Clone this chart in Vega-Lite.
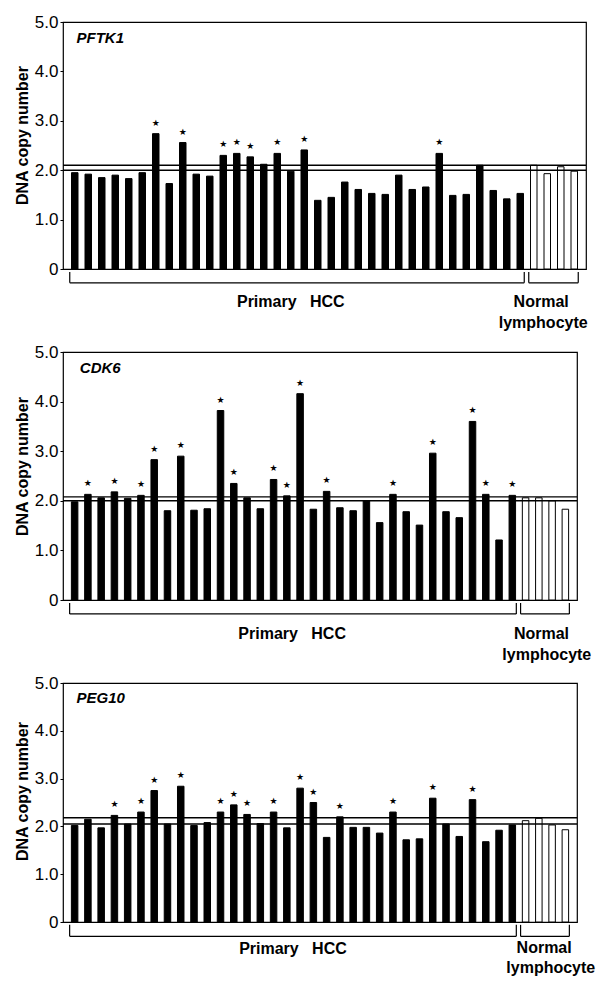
{
  "$schema": "https://vega.github.io/schema/vega-lite/v6.json",
  "padding": {"top": 12, "left": 13, "right": 0, "bottom": 0},
  "background": "white",
  "config": {
    "font": "Liberation Sans",
    "view": {"stroke": "black", "strokeWidth": 1.2},
    "axis": {
      "labelFont": "Liberation Sans", "labelFontSize": 17, "labelColor": "black",
      "titleFont": "Liberation Sans", "titleFontSize": 16, "titleFontWeight": "bold", "titleColor": "black",
      "tickColor": "black", "tickSize": 3, "labelPadding": 2, "titlePadding": 4, "domain": false, "grid": false
    },
    "axisY": {"title": "DNA copy number", "values": [0, 1, 2, 3, 4, 5], "labelExpr": "datum.value === 0 ? '0' : format(datum.value, '.1f')"}
  },
  "datasets": {
    "cn": [
      {"gene":"PFTK1","sample":1,"group":"HCC","value":1.95,"sig":false},
      {"gene":"PFTK1","sample":2,"group":"HCC","value":1.92,"sig":false},
      {"gene":"PFTK1","sample":3,"group":"HCC","value":1.85,"sig":false},
      {"gene":"PFTK1","sample":4,"group":"HCC","value":1.90,"sig":false},
      {"gene":"PFTK1","sample":5,"group":"HCC","value":1.83,"sig":false},
      {"gene":"PFTK1","sample":6,"group":"HCC","value":1.95,"sig":false},
      {"gene":"PFTK1","sample":7,"group":"HCC","value":2.74,"sig":true},
      {"gene":"PFTK1","sample":8,"group":"HCC","value":1.73,"sig":false},
      {"gene":"PFTK1","sample":9,"group":"HCC","value":2.56,"sig":true},
      {"gene":"PFTK1","sample":10,"group":"HCC","value":1.92,"sig":false},
      {"gene":"PFTK1","sample":11,"group":"HCC","value":1.88,"sig":false},
      {"gene":"PFTK1","sample":12,"group":"HCC","value":2.30,"sig":true},
      {"gene":"PFTK1","sample":13,"group":"HCC","value":2.34,"sig":true},
      {"gene":"PFTK1","sample":14,"group":"HCC","value":2.27,"sig":true},
      {"gene":"PFTK1","sample":15,"group":"HCC","value":2.12,"sig":false},
      {"gene":"PFTK1","sample":16,"group":"HCC","value":2.34,"sig":true},
      {"gene":"PFTK1","sample":17,"group":"HCC","value":1.98,"sig":false},
      {"gene":"PFTK1","sample":18,"group":"HCC","value":2.41,"sig":true},
      {"gene":"PFTK1","sample":19,"group":"HCC","value":1.39,"sig":false},
      {"gene":"PFTK1","sample":20,"group":"HCC","value":1.45,"sig":false},
      {"gene":"PFTK1","sample":21,"group":"HCC","value":1.76,"sig":false},
      {"gene":"PFTK1","sample":22,"group":"HCC","value":1.61,"sig":false},
      {"gene":"PFTK1","sample":23,"group":"HCC","value":1.53,"sig":false},
      {"gene":"PFTK1","sample":24,"group":"HCC","value":1.51,"sig":false},
      {"gene":"PFTK1","sample":25,"group":"HCC","value":1.90,"sig":false},
      {"gene":"PFTK1","sample":26,"group":"HCC","value":1.61,"sig":false},
      {"gene":"PFTK1","sample":27,"group":"HCC","value":1.66,"sig":false},
      {"gene":"PFTK1","sample":28,"group":"HCC","value":2.34,"sig":true},
      {"gene":"PFTK1","sample":29,"group":"HCC","value":1.49,"sig":false},
      {"gene":"PFTK1","sample":30,"group":"HCC","value":1.51,"sig":false},
      {"gene":"PFTK1","sample":31,"group":"HCC","value":2.10,"sig":false},
      {"gene":"PFTK1","sample":32,"group":"HCC","value":1.59,"sig":false},
      {"gene":"PFTK1","sample":33,"group":"HCC","value":1.42,"sig":false},
      {"gene":"PFTK1","sample":34,"group":"HCC","value":1.53,"sig":false},
      {"gene":"PFTK1","sample":35,"group":"Normal","value":2.10,"sig":false},
      {"gene":"PFTK1","sample":36,"group":"Normal","value":1.93,"sig":false},
      {"gene":"PFTK1","sample":37,"group":"Normal","value":2.07,"sig":false},
      {"gene":"PFTK1","sample":38,"group":"Normal","value":1.98,"sig":false},
      {"gene":"CDK6","sample":1,"group":"HCC","value":1.98,"sig":false},
      {"gene":"CDK6","sample":2,"group":"HCC","value":2.13,"sig":true},
      {"gene":"CDK6","sample":3,"group":"HCC","value":2.06,"sig":false},
      {"gene":"CDK6","sample":4,"group":"HCC","value":2.18,"sig":true},
      {"gene":"CDK6","sample":5,"group":"HCC","value":2.05,"sig":false},
      {"gene":"CDK6","sample":6,"group":"HCC","value":2.11,"sig":true},
      {"gene":"CDK6","sample":7,"group":"HCC","value":2.83,"sig":true},
      {"gene":"CDK6","sample":8,"group":"HCC","value":1.80,"sig":false},
      {"gene":"CDK6","sample":9,"group":"HCC","value":2.90,"sig":true},
      {"gene":"CDK6","sample":10,"group":"HCC","value":1.81,"sig":false},
      {"gene":"CDK6","sample":11,"group":"HCC","value":1.84,"sig":false},
      {"gene":"CDK6","sample":12,"group":"HCC","value":3.82,"sig":true},
      {"gene":"CDK6","sample":13,"group":"HCC","value":2.35,"sig":true},
      {"gene":"CDK6","sample":14,"group":"HCC","value":2.06,"sig":false},
      {"gene":"CDK6","sample":15,"group":"HCC","value":1.84,"sig":false},
      {"gene":"CDK6","sample":16,"group":"HCC","value":2.43,"sig":true},
      {"gene":"CDK6","sample":17,"group":"HCC","value":2.10,"sig":true},
      {"gene":"CDK6","sample":18,"group":"HCC","value":4.16,"sig":true},
      {"gene":"CDK6","sample":19,"group":"HCC","value":1.83,"sig":false},
      {"gene":"CDK6","sample":20,"group":"HCC","value":2.19,"sig":true},
      {"gene":"CDK6","sample":21,"group":"HCC","value":1.86,"sig":false},
      {"gene":"CDK6","sample":22,"group":"HCC","value":1.80,"sig":false},
      {"gene":"CDK6","sample":23,"group":"HCC","value":2.00,"sig":false},
      {"gene":"CDK6","sample":24,"group":"HCC","value":1.56,"sig":false},
      {"gene":"CDK6","sample":25,"group":"HCC","value":2.13,"sig":true},
      {"gene":"CDK6","sample":26,"group":"HCC","value":1.78,"sig":false},
      {"gene":"CDK6","sample":27,"group":"HCC","value":1.51,"sig":false},
      {"gene":"CDK6","sample":28,"group":"HCC","value":2.96,"sig":true},
      {"gene":"CDK6","sample":29,"group":"HCC","value":1.78,"sig":false},
      {"gene":"CDK6","sample":30,"group":"HCC","value":1.66,"sig":false},
      {"gene":"CDK6","sample":31,"group":"HCC","value":3.60,"sig":true},
      {"gene":"CDK6","sample":32,"group":"HCC","value":2.13,"sig":true},
      {"gene":"CDK6","sample":33,"group":"HCC","value":1.21,"sig":false},
      {"gene":"CDK6","sample":34,"group":"HCC","value":2.11,"sig":true},
      {"gene":"CDK6","sample":35,"group":"Normal","value":2.06,"sig":false},
      {"gene":"CDK6","sample":36,"group":"Normal","value":2.06,"sig":false},
      {"gene":"CDK6","sample":37,"group":"Normal","value":2.00,"sig":false},
      {"gene":"CDK6","sample":38,"group":"Normal","value":1.83,"sig":false},
      {"gene":"PEG10","sample":1,"group":"HCC","value":2.02,"sig":false},
      {"gene":"PEG10","sample":2,"group":"HCC","value":2.15,"sig":false},
      {"gene":"PEG10","sample":3,"group":"HCC","value":1.97,"sig":false},
      {"gene":"PEG10","sample":4,"group":"HCC","value":2.23,"sig":true},
      {"gene":"PEG10","sample":5,"group":"HCC","value":2.05,"sig":false},
      {"gene":"PEG10","sample":6,"group":"HCC","value":2.30,"sig":true},
      {"gene":"PEG10","sample":7,"group":"HCC","value":2.75,"sig":true},
      {"gene":"PEG10","sample":8,"group":"HCC","value":2.05,"sig":false},
      {"gene":"PEG10","sample":9,"group":"HCC","value":2.84,"sig":true},
      {"gene":"PEG10","sample":10,"group":"HCC","value":2.02,"sig":false},
      {"gene":"PEG10","sample":11,"group":"HCC","value":2.08,"sig":false},
      {"gene":"PEG10","sample":12,"group":"HCC","value":2.30,"sig":true},
      {"gene":"PEG10","sample":13,"group":"HCC","value":2.45,"sig":true},
      {"gene":"PEG10","sample":14,"group":"HCC","value":2.25,"sig":true},
      {"gene":"PEG10","sample":15,"group":"HCC","value":2.06,"sig":false},
      {"gene":"PEG10","sample":16,"group":"HCC","value":2.30,"sig":true},
      {"gene":"PEG10","sample":17,"group":"HCC","value":1.97,"sig":false},
      {"gene":"PEG10","sample":18,"group":"HCC","value":2.80,"sig":true},
      {"gene":"PEG10","sample":19,"group":"HCC","value":2.50,"sig":true},
      {"gene":"PEG10","sample":20,"group":"HCC","value":1.77,"sig":false},
      {"gene":"PEG10","sample":21,"group":"HCC","value":2.20,"sig":true},
      {"gene":"PEG10","sample":22,"group":"HCC","value":1.98,"sig":false},
      {"gene":"PEG10","sample":23,"group":"HCC","value":1.98,"sig":false},
      {"gene":"PEG10","sample":24,"group":"HCC","value":1.86,"sig":false},
      {"gene":"PEG10","sample":25,"group":"HCC","value":2.30,"sig":true},
      {"gene":"PEG10","sample":26,"group":"HCC","value":1.72,"sig":false},
      {"gene":"PEG10","sample":27,"group":"HCC","value":1.74,"sig":false},
      {"gene":"PEG10","sample":28,"group":"HCC","value":2.59,"sig":true},
      {"gene":"PEG10","sample":29,"group":"HCC","value":2.05,"sig":false},
      {"gene":"PEG10","sample":30,"group":"HCC","value":1.79,"sig":false},
      {"gene":"PEG10","sample":31,"group":"HCC","value":2.56,"sig":true},
      {"gene":"PEG10","sample":32,"group":"HCC","value":1.68,"sig":false},
      {"gene":"PEG10","sample":33,"group":"HCC","value":1.92,"sig":false},
      {"gene":"PEG10","sample":34,"group":"HCC","value":2.03,"sig":false},
      {"gene":"PEG10","sample":35,"group":"Normal","value":2.12,"sig":false},
      {"gene":"PEG10","sample":36,"group":"Normal","value":2.17,"sig":false},
      {"gene":"PEG10","sample":37,"group":"Normal","value":2.03,"sig":false},
      {"gene":"PEG10","sample":38,"group":"Normal","value":1.93,"sig":false}
    ]
  },
  "vconcat": [
    {
      "width": 523, "height": 247,
      "data": {"name": "cn"},
      "transform": [{"filter": "datum.gene === 'PFTK1'"}],
      "layer": [
        {"mark": {"type": "bar", "width": 6.5, "stroke": "black", "strokeWidth": 1},
         "encoding": {
           "x": {"field": "sample", "type": "quantitative", "scale": {"domain": [0.5, 38.5], "nice": false, "zero": false}, "axis": null},
           "y": {"field": "value", "type": "quantitative", "scale": {"domain": [0, 5], "nice": false}, "title": "DNA copy number", "axis": {"titleY": 113}},
           "y2": {"datum": 0},
           "fill": {"field": "group", "type": "nominal", "scale": {"domain": ["HCC", "Normal"], "range": ["black", "white"]}, "legend": null}
         }},
        {"transform": [{"filter": "datum.sig"}],
         "mark": {"type": "text", "text": "★", "font": "DejaVu Sans", "fontSize": 9, "dy": -11, "baseline": "middle", "fill": "black"},
         "encoding": {"x": {"field": "sample", "type": "quantitative", "axis": null}, "y": {"field": "value", "type": "quantitative"}}},
        {"data": {"values": [{"line": 2.0}, {"line": 2.1}]},
         "mark": {"type": "rule", "strokeWidth": 1.4, "color": "black"},
         "encoding": {"y": {"field": "line", "type": "quantitative"}}},
        {"transform": [{"aggregate": [{"op": "min", "field": "sample", "as": "lo"}, {"op": "max", "field": "sample", "as": "hi"}], "groupby": ["group"]}],
         "layer": [
           {"mark": {"type": "rule", "color": "black", "strokeWidth": 1.2, "xOffset": -5, "x2Offset": 4},
            "encoding": {"x": {"field": "lo", "type": "quantitative", "axis": null}, "x2": {"field": "hi"}, "y": {"datum": -0.28, "type": "quantitative"}}},
           {"mark": {"type": "rule", "color": "black", "strokeWidth": 1.2, "xOffset": -5},
            "encoding": {"x": {"field": "lo", "type": "quantitative", "axis": null}, "y": {"datum": -0.06, "type": "quantitative"}, "y2": {"datum": -0.28}}},
           {"mark": {"type": "rule", "color": "black", "strokeWidth": 1.2, "xOffset": 4},
            "encoding": {"x": {"field": "hi", "type": "quantitative", "axis": null}, "y": {"datum": -0.06, "type": "quantitative"}, "y2": {"datum": -0.28}}}
         ]},
        {"data": {"values": [{}]},
         "mark": {"type": "text", "text": "PFTK1", "fontSize": 15, "fontWeight": "bold", "fontStyle": "italic", "align": "left", "baseline": "middle", "fill": "black"},
         "encoding": {"x": {"datum": 1.13, "type": "quantitative", "axis": null}, "y": {"datum": 4.67, "type": "quantitative"}}},
        {"data": {"values": [{}]},
         "mark": {"type": "text", "text": "Primary\u00a0\u00a0 HCC", "fontSize": 16, "fontWeight": "bold", "align": "center", "baseline": "middle", "fill": "black"},
         "encoding": {"x": {"datum": 17.0, "type": "quantitative", "axis": null}, "y": {"datum": -0.66, "type": "quantitative"}}},
        {"data": {"values": [{}]},
         "mark": {"type": "text", "text": "Normal", "fontSize": 16, "fontWeight": "bold", "align": "center", "baseline": "middle", "fill": "black"},
         "encoding": {"x": {"datum": 35.55, "type": "quantitative", "axis": null}, "y": {"datum": -0.66, "type": "quantitative"}}},
        {"data": {"values": [{}]},
         "mark": {"type": "text", "text": "lymphocyte", "fontSize": 16, "fontWeight": "bold", "align": "center", "baseline": "middle", "fill": "black"},
         "encoding": {"x": {"datum": 35.7, "type": "quantitative", "axis": null}, "y": {"datum": -1.1, "type": "quantitative"}}}
      ]
    },
    {
      "width": 514, "height": 248,
      "data": {"name": "cn"},
      "transform": [{"filter": "datum.gene === 'CDK6'"}],
      "layer": [
        {"mark": {"type": "bar", "width": 6.5, "stroke": "black", "strokeWidth": 1},
         "encoding": {
           "x": {"field": "sample", "type": "quantitative", "scale": {"domain": [0.5, 38.5], "nice": false, "zero": false}, "axis": null},
           "y": {"field": "value", "type": "quantitative", "scale": {"domain": [0, 5], "nice": false}, "title": "DNA copy number", "axis": {"titleY": 114}},
           "y2": {"datum": 0},
           "fill": {"field": "group", "type": "nominal", "scale": {"domain": ["HCC", "Normal"], "range": ["black", "white"]}, "legend": null}
         }},
        {"transform": [{"filter": "datum.sig"}],
         "mark": {"type": "text", "text": "★", "font": "DejaVu Sans", "fontSize": 9, "dy": -11, "baseline": "middle", "fill": "black"},
         "encoding": {"x": {"field": "sample", "type": "quantitative", "axis": null}, "y": {"field": "value", "type": "quantitative"}}},
        {"data": {"values": [{"line": 2.0}, {"line": 2.08}]},
         "mark": {"type": "rule", "strokeWidth": 1.4, "color": "black"},
         "encoding": {"y": {"field": "line", "type": "quantitative"}}},
        {"transform": [{"aggregate": [{"op": "min", "field": "sample", "as": "lo"}, {"op": "max", "field": "sample", "as": "hi"}], "groupby": ["group"]}],
         "layer": [
           {"mark": {"type": "rule", "color": "black", "strokeWidth": 1.2, "xOffset": -5, "x2Offset": 4},
            "encoding": {"x": {"field": "lo", "type": "quantitative", "axis": null}, "x2": {"field": "hi"}, "y": {"datum": -0.28, "type": "quantitative"}}},
           {"mark": {"type": "rule", "color": "black", "strokeWidth": 1.2, "xOffset": -5},
            "encoding": {"x": {"field": "lo", "type": "quantitative", "axis": null}, "y": {"datum": -0.06, "type": "quantitative"}, "y2": {"datum": -0.28}}},
           {"mark": {"type": "rule", "color": "black", "strokeWidth": 1.2, "xOffset": 4},
            "encoding": {"x": {"field": "hi", "type": "quantitative", "axis": null}, "y": {"datum": -0.06, "type": "quantitative"}, "y2": {"datum": -0.28}}}
         ]},
        {"data": {"values": [{}]},
         "mark": {"type": "text", "text": "CDK6", "fontSize": 15, "fontWeight": "bold", "fontStyle": "italic", "align": "left", "baseline": "middle", "fill": "black"},
         "encoding": {"x": {"datum": 1.39, "type": "quantitative", "axis": null}, "y": {"datum": 4.68, "type": "quantitative"}}},
        {"data": {"values": [{}]},
         "mark": {"type": "text", "text": "Primary\u00a0\u00a0 HCC", "fontSize": 16, "fontWeight": "bold", "align": "center", "baseline": "middle", "fill": "black"},
         "encoding": {"x": {"datum": 17.4, "type": "quantitative", "axis": null}, "y": {"datum": -0.68, "type": "quantitative"}}},
        {"data": {"values": [{}]},
         "mark": {"type": "text", "text": "Normal", "fontSize": 16, "fontWeight": "bold", "align": "center", "baseline": "middle", "fill": "black"},
         "encoding": {"x": {"datum": 36.2, "type": "quantitative", "axis": null}, "y": {"datum": -0.68, "type": "quantitative"}}},
        {"data": {"values": [{}]},
         "mark": {"type": "text", "text": "lymphocyte", "fontSize": 16, "fontWeight": "bold", "align": "center", "baseline": "middle", "fill": "black"},
         "encoding": {"x": {"datum": 36.6, "type": "quantitative", "axis": null}, "y": {"datum": -1.1, "type": "quantitative"}}}
      ]
    },
    {
      "width": 514, "height": 239,
      "data": {"name": "cn"},
      "transform": [{"filter": "datum.gene === 'PEG10'"}],
      "layer": [
        {"mark": {"type": "bar", "width": 6.5, "stroke": "black", "strokeWidth": 1},
         "encoding": {
           "x": {"field": "sample", "type": "quantitative", "scale": {"domain": [0.5, 38.5], "nice": false, "zero": false}, "axis": null},
           "y": {"field": "value", "type": "quantitative", "scale": {"domain": [0, 5], "nice": false}, "title": "DNA copy number", "axis": {"titleY": 108}},
           "y2": {"datum": 0},
           "fill": {"field": "group", "type": "nominal", "scale": {"domain": ["HCC", "Normal"], "range": ["black", "white"]}, "legend": null}
         }},
        {"transform": [{"filter": "datum.sig"}],
         "mark": {"type": "text", "text": "★", "font": "DejaVu Sans", "fontSize": 9, "dy": -11, "baseline": "middle", "fill": "black"},
         "encoding": {"x": {"field": "sample", "type": "quantitative", "axis": null}, "y": {"field": "value", "type": "quantitative"}}},
        {"data": {"values": [{"line": 2.05}, {"line": 2.18}]},
         "mark": {"type": "rule", "strokeWidth": 1.4, "color": "black"},
         "encoding": {"y": {"field": "line", "type": "quantitative"}}},
        {"transform": [{"aggregate": [{"op": "min", "field": "sample", "as": "lo"}, {"op": "max", "field": "sample", "as": "hi"}], "groupby": ["group"]}],
         "layer": [
           {"mark": {"type": "rule", "color": "black", "strokeWidth": 1.2, "xOffset": -5, "x2Offset": 4},
            "encoding": {"x": {"field": "lo", "type": "quantitative", "axis": null}, "x2": {"field": "hi"}, "y": {"datum": -0.3, "type": "quantitative"}}},
           {"mark": {"type": "rule", "color": "black", "strokeWidth": 1.2, "xOffset": -5},
            "encoding": {"x": {"field": "lo", "type": "quantitative", "axis": null}, "y": {"datum": -0.06, "type": "quantitative"}, "y2": {"datum": -0.3}}},
           {"mark": {"type": "rule", "color": "black", "strokeWidth": 1.2, "xOffset": 4},
            "encoding": {"x": {"field": "hi", "type": "quantitative", "axis": null}, "y": {"datum": -0.06, "type": "quantitative"}, "y2": {"datum": -0.3}}}
         ]},
        {"data": {"values": [{}]},
         "mark": {"type": "text", "text": "PEG10", "fontSize": 15, "fontWeight": "bold", "fontStyle": "italic", "align": "left", "baseline": "middle", "fill": "black"},
         "encoding": {"x": {"datum": 1.14, "type": "quantitative", "axis": null}, "y": {"datum": 4.69, "type": "quantitative"}}},
        {"data": {"values": [{}]},
         "mark": {"type": "text", "text": "Primary\u00a0\u00a0 HCC", "fontSize": 16, "fontWeight": "bold", "align": "center", "baseline": "middle", "fill": "black"},
         "encoding": {"x": {"datum": 17.46, "type": "quantitative", "axis": null}, "y": {"datum": -0.57, "type": "quantitative"}}},
        {"data": {"values": [{}]},
         "mark": {"type": "text", "text": "Normal", "fontSize": 16, "fontWeight": "bold", "align": "center", "baseline": "middle", "fill": "black"},
         "encoding": {"x": {"datum": 36.4, "type": "quantitative", "axis": null}, "y": {"datum": -0.55, "type": "quantitative"}}},
        {"data": {"values": [{}]},
         "mark": {"type": "text", "text": "lymphocyte", "fontSize": 16, "fontWeight": "bold", "align": "center", "baseline": "middle", "fill": "black"},
         "encoding": {"x": {"datum": 36.9, "type": "quantitative", "axis": null}, "y": {"datum": -0.97, "type": "quantitative"}}}
      ]
    }
  ],
  "spacing": 83,
  "bounds": "flush"
}
